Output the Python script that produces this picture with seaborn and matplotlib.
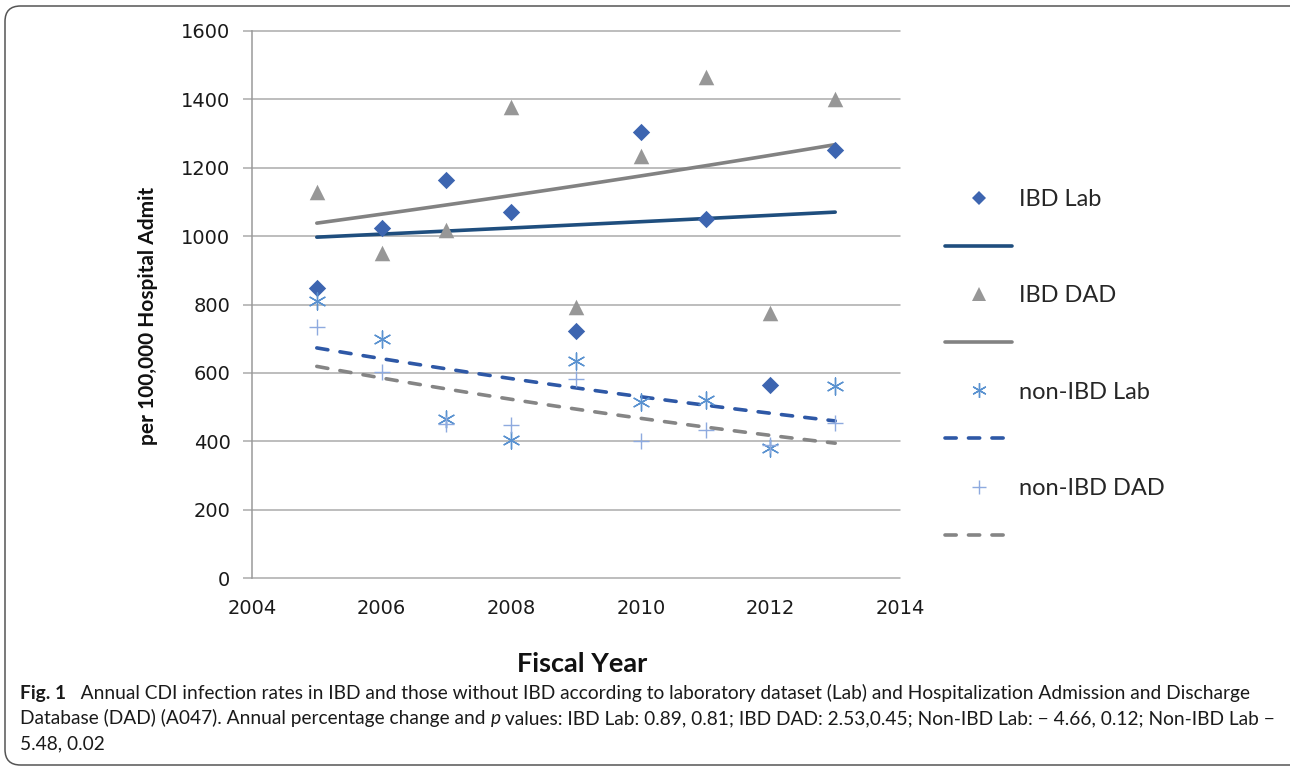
import numpy as np
import pandas as pd
import matplotlib
matplotlib.use("Agg")
import matplotlib.pyplot as plt
from matplotlib.lines import Line2D
from matplotlib.patches import FancyBboxPatch
import seaborn as sns

# Annual CDI rates per 100,000 hospital admissions
years = [2005, 2006, 2007, 2008, 2009, 2010, 2011, 2012, 2013]
ibd_lab = [848, 1025, 1164, 1070, 722, 1304, 1049, 564, 1252]
ibd_dad = [1128, 950, 1018, 1377, 793, 1235, 1466, 776, 1400]
non_ibd_lab = [810, 700, 465, 405, 635, 515, 520, 380, 562]
non_ibd_dad = [733, 602, 450, 447, 582, 402, 433, 390, 452]

series_names = ["IBD Lab", "IBD DAD", "non-IBD Lab", "non-IBD DAD"]
# Exponential trend: fitted value in 2005 and annual percentage change
trend_start = [997, 1038, 673, 619]
annual_pct_change = [0.89, 2.53, -4.66, -5.48]

x_ticks = [2004, 2006, 2008, 2010, 2012, 2014]
y_ticks = [0, 200, 400, 600, 800, 1000, 1200, 1400, 1600]

caption_lines = [
    "Annual CDI infection rates in IBD and those without IBD according to laboratory dataset (Lab) and Hospitalization Admission and Discharge",
    "Database (DAD) (A047). Annual percentage change and ",
    "5.48, 0.02",
]
caption_line2_tail = " values: IBD Lab: 0.89, 0.81; IBD DAD: 2.53,0.45; Non-IBD Lab: \u2212 4.66, 0.12; Non-IBD Lab \u2212"

df = pd.DataFrame({
    "year": years * 4,
    "rate": ibd_lab + ibd_dad + non_ibd_lab + non_ibd_dad,
    "series": sum([[n] * len(years) for n in series_names], []),
})

sns.set_theme(style="white")
plt.rcParams["font.family"] = ["DejaVu Sans"]

W, H = 1290, 769
fig = plt.figure(figsize=(W / 100, H / 100), dpi=100)
fig.patch.set_facecolor("white")
ax = fig.add_axes([252 / W, 1 - 578 / H, (900 - 252) / W, (578 - 31) / H])

marker_styles = {
    "IBD Lab": dict(marker="D", s=78, color="#3D65B0", linewidth=0),
    "IBD DAD": dict(marker="^", s=125, color="#979797", linewidth=0),
    "non-IBD Lab": dict(marker=(6, 2, 0), s=150, color="#5A92D0", linewidth=1.0),
    "non-IBD DAD": dict(marker="+", s=140, color="#8EAADF", linewidth=1.0),
}
legend_ms = {"IBD Lab": 7.6, "IBD DAD": 9.5, "non-IBD Lab": 10.5, "non-IBD DAD": 10.5}
trend_styles = {
    "IBD Lab": dict(color="#1F4E7E", linestyle="-"),
    "IBD DAD": dict(color="#828282", linestyle="-"),
    "non-IBD Lab": dict(color="#2E58A6", linestyle=(0, (3.1, 3.4))),
    "non-IBD DAD": dict(color="#858585", linestyle=(0, (3.1, 3.4))),
}
trend_lw = 2.6

# trend curves from the annual percentage change
for name, start, apc in zip(series_names, trend_start, annual_pct_change):
    xs = np.linspace(min(years), max(years), 60)
    ys = start * (1 + apc / 100.0) ** (xs - min(years))
    sns.lineplot(x=xs, y=ys, ax=ax, lw=trend_lw, zorder=3,
                 solid_capstyle="round", dash_capstyle="round",
                 **trend_styles[name])

# observed yearly rates
for name in series_names:
    sub = df[df["series"] == name]
    st = marker_styles[name]
    sns.scatterplot(data=sub, x="year", y="rate", ax=ax, zorder=4,
                    marker=st["marker"], s=st["s"], color=st["color"],
                    linewidth=st["linewidth"], edgecolor=st["color"] if st["linewidth"] else None)

ax.set_xlim(2004, 2014)
ax.set_ylim(0, 1600)
ax.set_xticks(x_ticks)
ax.set_yticks(y_ticks)
ax.set_xlabel("")
ax.set_ylabel("")
ax.grid(axis="y", color="#ABABAB", linewidth=1.1)
ax.grid(axis="x", visible=False)
ax.set_axisbelow(True)
for gl in ax.get_ygridlines():
    gl.set_clip_on(False)
for side in ["top", "right", "bottom"]:
    ax.spines[side].set_visible(False)
ax.spines["left"].set_color("#9A9A9A")
ax.spines["left"].set_linewidth(1.1)
ax.tick_params(axis="y", which="major", left=True, length=6.5, width=1.1,
               color="#ABABAB", direction="out", pad=9, labelsize=14, labelcolor="#1a1a1a")
ax.tick_params(axis="x", which="major", bottom=False, length=0, pad=15,
               labelsize=14, labelcolor="#1a1a1a")
if ax.get_legend() is not None:
    ax.get_legend().remove()

# axis titles
fig.text(148 / W, 1 - 316 / H, "per 100,000 Hospital Admit", rotation=90,
         ha="center", va="center", fontsize=15, fontweight="bold",
         family=["Lato", "DejaVu Sans"], color="#111111")
fig.text(582 / W, 1 - 672 / H, "Fiscal Year", ha="center", va="baseline",
         fontsize=19.5, fontweight="bold", family=["Lato", "DejaVu Sans"], color="#111111")

# legend: each series marker followed by its trend line
handles, labels = [], []
for name in series_names:
    st = marker_styles[name]
    handles.append(Line2D([], [], linestyle="none", marker=st["marker"],
                          markersize=legend_ms[name], color=st["color"],
                          markeredgewidth=st["linewidth"] if st["linewidth"] else 0))
    labels.append(name)
    ts = trend_styles[name]
    handles.append(Line2D([], [], color=ts["color"], linestyle=ts["linestyle"], lw=trend_lw,
                          solid_capstyle="round", dash_capstyle="round"))
    labels.append("")
fig.legend(handles, labels, loc="center left",
           bbox_to_anchor=(945 / W, 1 - 368 / H), frameon=False,
           borderpad=0, borderaxespad=0, handlelength=2.85, handletextpad=0.28,
           labelspacing=1.15, prop={"family": ["Lato", "DejaVu Sans"], "size": 17})

# caption
cap_font = ["Lato", "DejaVu Sans"]
cap_size = 13.75
y1 = 1 - 699 / H
y2 = 1 - 724 / H
y3 = 1 - 749 / H
t_fig = fig.text(20 / W, y1, "Fig. 1", ha="left", va="baseline", fontsize=cap_size,
                 fontweight="bold", family=cap_font, color="#1a1a1a")
plt.annotate("   " + caption_lines[0], xy=(1, y1), xycoords=(t_fig, "figure fraction"),
             ha="left", va="baseline", fontsize=cap_size, family=cap_font, color="#1a1a1a",
             annotation_clip=False)
t2 = fig.text(20 / W, y2, caption_lines[1], ha="left", va="baseline", fontsize=cap_size,
              family=cap_font, color="#1a1a1a")
tp = plt.annotate("p", xy=(1, y2), xycoords=(t2, "figure fraction"), ha="left", va="baseline",
                  fontsize=cap_size, family=cap_font, style="italic", color="#1a1a1a",
                  annotation_clip=False)
plt.annotate(caption_line2_tail, xy=(1, y2), xycoords=(tp, "figure fraction"), ha="left",
             va="baseline", fontsize=cap_size, family=cap_font, color="#1a1a1a",
             annotation_clip=False)
fig.text(20 / W, y3, caption_lines[2], ha="left", va="baseline", fontsize=cap_size,
         family=cap_font, color="#1a1a1a")

# rounded frame around the figure
frame = FancyBboxPatch((5 / W, 4 / H), (W + 20) / W, (H - 10) / H,
                       boxstyle="round,pad=0,rounding_size=0.012",
                       transform=fig.transFigure, fill=False, edgecolor="#555555",
                       linewidth=1.1, mutation_aspect=W / H)
fig.patches.append(frame)

fig.savefig("out.png", dpi=100)
